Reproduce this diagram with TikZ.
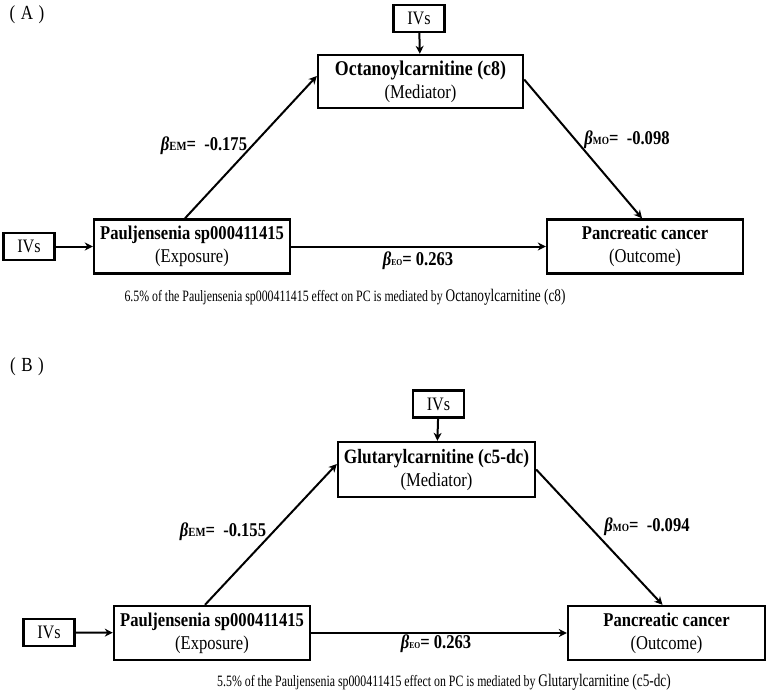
\documentclass[tikz,border=0pt]{standalone}
\usepackage{fontspec}
\setmainfont[FakeStretch=0.85]{Liberation Serif}
\newfontfamily\capfont[FakeStretch=0.75]{Liberation Serif}
\usetikzlibrary{arrows.meta}
\tikzset{
  box/.style={draw, line width=2.4pt, minimum width=196pt, minimum height=54pt, inner sep=0pt, align=center, font=\fontsize{19.5}{23}\selectfont},
  ivbox/.style={draw, line width=2.2pt, minimum width=51pt, minimum height=27pt, inner sep=0pt, font=\fontsize{19}{20}\selectfont},
  conn/.style={line width=2pt, -{Stealth[length=8pt,width=8pt,inset=2.5pt]}},
  beta/.style={font=\fontsize{19.5}{20}\selectfont\bfseries, inner sep=0pt},
  captext/.style={inner sep=0pt, font=\capfont},
  panel/.style={font=\fontsize{20}{20}\selectfont, inner sep=0pt}
}
\newcommand{\bsub}[2]{\textit{β}{\fontsize{#1}{#1}\selectfont #2}}
\begin{document}
\begin{tikzpicture}[x=1pt,y=-1pt]
\useasboundingbox (0,0) rectangle (767,695);
% ---------- Panel A ----------
\node[panel] (pA) at (27,15) {(\;A\;)};
\node[ivbox] (ivAt) at (419,18.5) {IVs};
\node[box, minimum width=205pt, minimum height=53pt] (medA) at (420.5,81.5) {{\fontsize{21}{23}\selectfont\bfseries Octanoylcarnitine (c8)}\\(Mediator)};
\node[box] (expA) at (192,246.5) {\textbf{Pauljensenia sp000411415}\\(Exposure)};
\node[ivbox] (ivAl) at (29,246.5) {IVs};
\node[box] (outA) at (645,246.5) {\textbf{Pancreatic cancer}\\(Outcome)};
\draw[conn] (ivAt) -- (medA);
\draw[conn] (ivAl) -- (expA);
\draw[conn] ([xshift=-7pt]expA.north) -- ([yshift=5.5pt]medA.west);
\draw[conn] ([yshift=2pt]medA.east) -- ([xshift=-3pt]outA.north);
\draw[conn] (expA.east) -- (outA.west);
\node[beta] (bemA) at (204,146) {\bsub{12.5}{EM}=\ \ -0.175};
\node[beta] (bmoA) at (627,140) {\bsub{11}{MO}=\ \ -0.098};
\node[beta] (beoA) at (418,261) {\bsub{9}{EO}=\ 0.263};
\node[captext] (capA) at (345,297) {\fontsize{15.8}{17}\selectfont 6.5\% of the Pauljensenia sp000411415 effect on PC is mediated by {\fontsize{17.7}{18}\selectfont Octanoylcarnitine (c8)}};
% ---------- Panel B ----------
\node[panel] (pB) at (27,367) {(\;B\;)};
\node[ivbox] (ivBt) at (438.5,404) {IVs};
\node[box, minimum width=197pt, minimum height=55pt] (medB) at (436.5,469.5) {{\fontsize{20.4}{23}\selectfont\bfseries Glutarylcarnitine (c5-dc)}\\(Mediator)};
\node[box] (expB) at (212,633) {\textbf{Pauljensenia sp000411415}\\(Exposure)};
\node[ivbox] (ivBl) at (49,632.5) {IVs};
\node[box, minimum width=197pt] (outB) at (666.5,633) {\textbf{Pancreatic cancer}\\(Outcome)};
\draw[conn] (ivBt) -- (medB);
\draw[conn] (ivBl) -- (expB);
\draw[conn] ([xshift=-7pt]expB.north) -- ([yshift=5.5pt]medB.west);
\draw[conn] ([yshift=0pt]medB.east) -- ([xshift=-4pt]outB.north);
\draw[conn] (expB.east) -- (outB.west);
\node[beta] (bemB) at (223,532) {\bsub{12.5}{EM}=\ \ -0.155};
\node[beta] (bmoB) at (647,527) {\bsub{11}{MO}=\ \ -0.094};
\node[beta] (beoB) at (436,644) {\bsub{9}{EO}=\ 0.263};
\node[captext] (capB) at (444,682) {\fontsize{15.8}{17}\selectfont 5.5\% of the Pauljensenia sp000411415 effect on PC is mediated by {\fontsize{17.7}{18}\selectfont Glutarylcarnitine (c5-dc)}};
\end{tikzpicture}
\end{document}
